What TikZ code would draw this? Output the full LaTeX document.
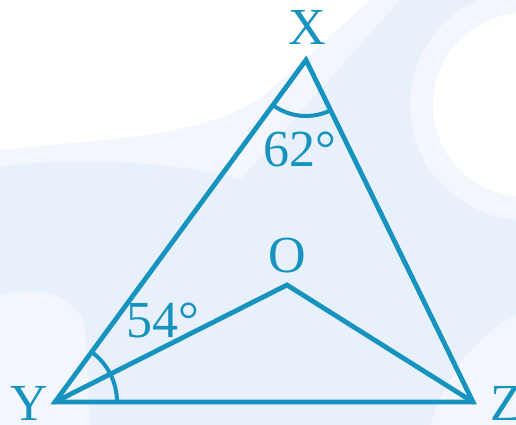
\documentclass[tikz,border=0pt]{standalone}
\usepackage{fontspec}
\setmainfont{Liberation Serif}
\definecolor{teal}{RGB}{23,147,192}
\definecolor{bgblue}{RGB}{232,241,251}
\definecolor{bglight}{RGB}{243,247,253}
\begin{document}
\begin{tikzpicture}[x=1pt,y=1pt,
  edge/.style={draw=teal,line width=4.8pt,line join=miter,line cap=round},
  anglearc/.style={draw=teal,line width=4pt},
  lbl/.style={text=teal,font=\fontsize{52}{60}\selectfont,anchor=base,inner sep=0pt}]
% background
\fill[bgblue] (0,0) rectangle (516,425);
\useasboundingbox (0,0) rectangle (516,425);
\fill[bglight] (0,425) -- (400,425) -- (240,245) .. controls (180,265) and (60,268) .. (0,258) -- cycle;
\fill[white] (0,425) -- (370,425) -- (262,328) .. controls (200,285) and (80,285) .. (0,275) -- cycle;
\fill[bglight] (525,320) circle[radius=115pt];
\fill[white] (525,320) circle[radius=92pt];
\fill[bglight] (0,0) -- (0,130) .. controls (40,140) and (75,130) .. (85,100) -- (90,0) -- cycle;
\fill[bglight] (516,0) -- (516,110) .. controls (480,90) and (450,60) .. (430,0) -- cycle;
% points
\coordinate (X) at (306,365);
\coordinate (Y) at (55,23);
\coordinate (Z) at (473,23);
\coordinate (O) at (287,140);
% angle arcs
\draw[anglearc] ([shift={(0:62pt)}]Y) arc[start angle=0,end angle=53.7,radius=62pt];
\draw[anglearc] ([shift={(233.7:56pt)}]X) arc[start angle=233.7,end angle=296,radius=56pt];
% edges
\draw[edge] (X) -- (Y) -- (Z) -- cycle;
\draw[edge] (Y) -- (O) -- (Z);
% labels
\node[lbl] (lX) at (307,380) {X};
\node[lbl] (lY) at (29,4) {Y};
\node[lbl] (lZ) at (506,4) {Z};
\node[lbl] (lO) at (287,152) {O};
\node[lbl] (a62) at (300,258) {62°};
\node[lbl] (a54) at (163,87) {54°};
\end{tikzpicture}
\end{document}
